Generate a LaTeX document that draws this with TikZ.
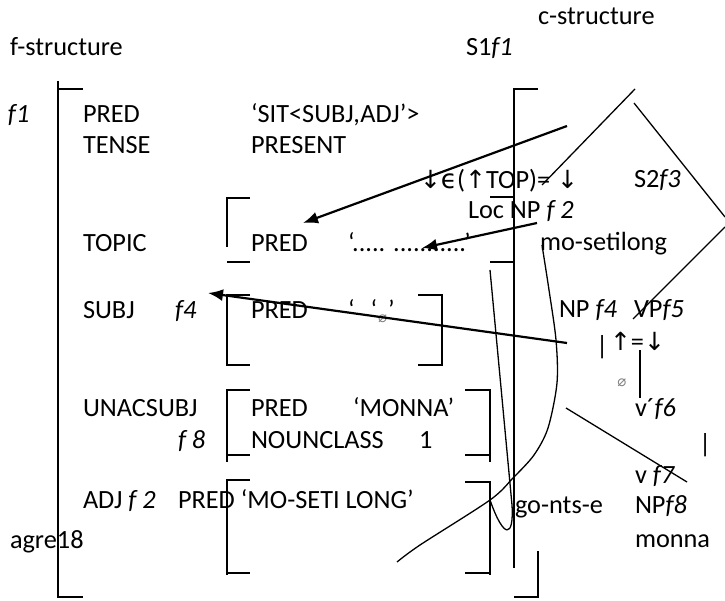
\documentclass[tikz,border=0pt]{standalone}
\usepackage{fontspec}
\setmainfont{Carlito}
\newfontfamily\dejavu{DejaVu Sans}
\usetikzlibrary{arrows.meta}

\tikzset{
  lbl/.style={anchor=base west, inner sep=0pt, outer sep=0pt},
  brk/.style={line width=1.8pt},
  thinln/.style={line width=1.3pt},
  arr/.style={line width=2.2pt, -{Latex[length=15pt,width=12pt]}},
}
\newcommand{\ua}{{\dejavu\fontsize{25}{28}\selectfont ↑}}
\newcommand{\da}{{\dejavu\fontsize{25}{28}\selectfont ↓}}
\newcommand{\nul}{{\dejavu\fontsize{15}{17}\selectfont\color{gray}⌀}}

\begin{document}
\begin{tikzpicture}[x=1pt, y=-1pt, font=\fontsize{26.3}{31}\selectfont]
  \useasboundingbox (0,0) rectangle (725,601);

  %% headings
  \node[lbl] (fhead) at (10,56) {f-structure};
  \node[lbl] (chead) at (538,25) {c-structure};
  \node[lbl] (s1) at (466,56) {S1\textit{f1}};

  %% f-structure attributes
  \node[lbl] (f1) at (8,123) {\textit{f1}};
  \foreach \n/\t/\y in {pred/PRED/123, tense/TENSE/154, topic/TOPIC/252,
                        subj/SUBJ/319, unac/UNACSUBJ/416}
    \node[lbl] (\n) at (83,\y) {\t};
  \node[lbl] (adj) at (83,508) {ADJ \textit{f 2}};
  \node[lbl] (adjpred) at (178,508) {PRED ‘MO-SETI LONG’};
  \node[lbl] (agre) at (10,548) {agre18};
  \node[lbl] (f4) at (175,319) {\textit{f4}};
  \node[lbl] (f8) at (178,448) {\textit{f 8}};

  %% f-structure values
  \node[lbl] (sit) at (251,123) {‘SIT<SUBJ,ADJ’>};
  \node[lbl] (present) at (251,154) {PRESENT};
  \foreach \n/\y in {tpred/252, spred/319, upred/416}
    \node[lbl] (\n) at (251,\y) {PRED};
  \node[lbl] (nclass) at (251,448) {NOUNCLASS};
  \node[lbl] (dots) at (348,252) {‘..... ...........’};
  \node[lbl] (quotes) at (348,319)
       {‘\hspace{16pt}‘\hspace{1pt}\raisebox{-4pt}{\nul}\hspace{1pt}’};
  \node[lbl] (monna) at (353,416) {‘MONNA’};
  \node[lbl] (one) at (419,448) {1};

  %% f-structure brackets
  \draw[brk] (58,81) -- (58,597) -- (83,597);
  \draw[brk] (58,89) -- (83,89);
  \draw[brk] (250,198) -- (227,198) -- (227,247);
  \draw[brk] (227,262) -- (250,262);
  \draw[brk] (490,197) -- (514,197);
  \draw[brk] (490,262) -- (514,262);
  \draw[brk] (250,295) -- (227,295) -- (227,365) -- (250,365);
  \draw[brk] (418,295) -- (442,295) -- (442,365) -- (418,365);
  \draw[brk] (250,390) -- (227,390) -- (227,462);
  \draw[brk] (227,455) -- (250,455);
  \draw[brk] (465,390) -- (490,390) -- (490,462);
  \draw[brk] (465,455) -- (490,455);
  \draw[brk] (250,480) -- (227,480) -- (227,575);
  \draw[brk] (227,573) -- (250,573);
  \draw[brk] (465,482) -- (490,482) -- (490,575);
  \draw[brk] (465,573) -- (490,573);
  \draw[brk] (538,89) -- (514,89) -- (514,568);
  \draw[brk] (538,551) -- (538,597) -- (514,597);

  %% c-structure labels
  \node[lbl] (topeq) at (420,189) {\da{\dejavu ϵ}(\ua TOP)=};
  \node[lbl] (topda) at (557,189) {\da};
  \node[lbl] (s2) at (634,188) {S2\textit{f3}};
  \node[lbl] (locnp) at (468,219) {Loc NP \textit{f 2}};
  \node[lbl] (mosetilong) at (540,251) {mo-setilong};
  \node[lbl] (np4) at (559,318) {NP \textit{f4}};
  \node[lbl] (vp5) at (634,318) {VP\textit{f5}};
  \node[lbl] (barA) at (596,354) {|};
  \node[lbl] (upeq) at (610,350) {\ua=\da};
  \node[inner sep=0pt] (nulB) at (622,383) {\nul};
  \node[lbl] (v6) at (635,416) {v´\textit{f6}};
  \node[lbl] (barB) at (699,452) {|};
  \node[lbl] (v7) at (635,483) {v \textit{f7}};
  \node[lbl] (np8) at (635,513) {NP\textit{f8}};
  \node[lbl] (cmonna) at (635,547) {monna};
  \node[lbl] (gontse) at (515,513) {go-nts-e};

  %% tree lines
  \coordinate (top) at (635,89);
  \coordinate (topleft) at (542,185);
  \coordinate (rtop) at (634,103);
  \coordinate (redge) at (725,217);
  \coordinate (redgeb) at (725,227);
  \coordinate (vpx) at (633,319);
  \coordinate (vbar) at (640,350);
  \coordinate (vbarend) at (640,398);
  \coordinate (lnA) at (566,408);
  \coordinate (lnB) at (687,482);
  \draw[thinln] (top) -- (topleft);
  \draw[thinln] (rtop) -- (redge);
  \draw[thinln] (redgeb) -- (vpx);
  \draw[thinln] (vbar) -- (vbarend);
  \draw[thinln] (lnA) -- (lnB);

  %% curves through the brackets
  \draw[thinln] plot[smooth] coordinates {(542,245) (549,290) (556,340)
        (557,383) (548,428) (534,455) (513,478) (490,500) (420,545) (397,562)};
  \coordinate (loopA) at (490,270);
  \coordinate (loopB) at (512,505);
  \coordinate (loopC) at (490,500);
  \draw[thinln] (loopA) -- (loopB) .. controls (514,538) and (504,540) .. (loopC);

  %% arrows
  \coordinate (a1s) at (567,126);
  \coordinate (a1e) at (303,223);
  \coordinate (a2s) at (537,223);
  \coordinate (a2e) at (422,248);
  \coordinate (a3s) at (567,343);
  \coordinate (a3e) at (208,293);
  \draw[arr] (a1s) -- (a1e);
  \draw[arr] (a2s) -- (a2e);
  \draw[arr] (a3s) -- (a3e);
\end{tikzpicture}
\end{document}
